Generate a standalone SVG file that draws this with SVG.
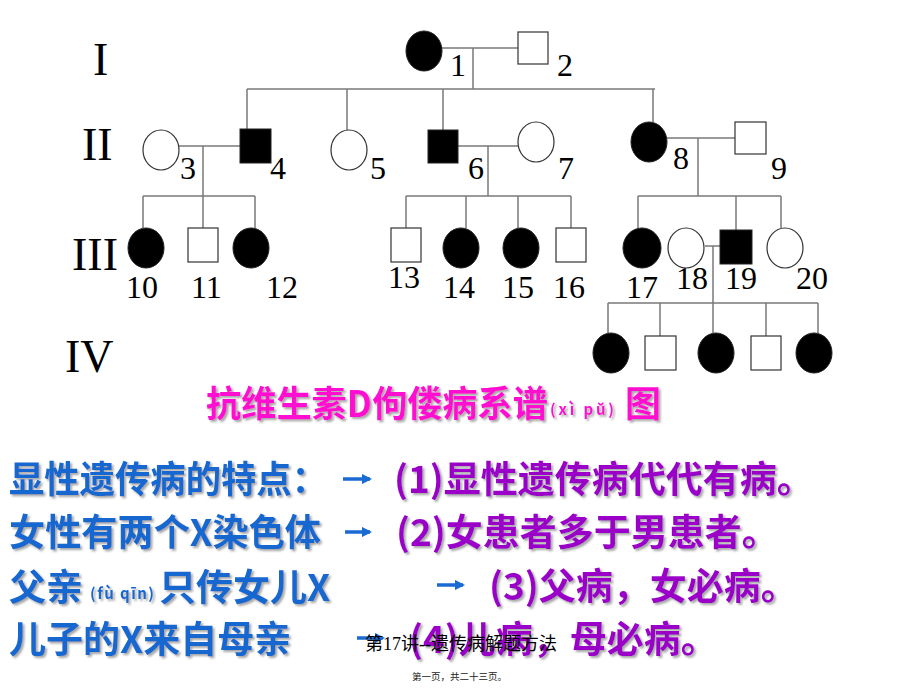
<svg xmlns="http://www.w3.org/2000/svg" width="920" height="690" viewBox="0 0 920 690">
<defs>
<style>
.ln{stroke:#7a7a7a;stroke-width:1.5;fill:none}
.f{fill:#000;stroke:#222;stroke-width:1}
.o{fill:#fff;stroke:#333;stroke-width:1.2}
.num{font-family:"Liberation Serif","Times New Roman",serif;font-size:32px;fill:#000}
.gen{font-family:"Liberation Serif","Times New Roman",serif;font-size:46px;fill:#000}
.cjk{font-family:"Noto Sans CJK SC","Liberation Sans",sans-serif;font-weight:700}
.blue{fill:#1268d0;font-size:37px}
.pur{fill:#9a06c8;font-size:37px}
.pink{fill:#ff10d0;font-size:36px}
.arr{stroke:#1a6ad4;stroke-width:3.5;fill:none}
</style>
<filter id="sh" x="-5%" y="-20%" width="110%" height="140%">
<feDropShadow dx="2" dy="2" stdDeviation="1" flood-color="#808080" flood-opacity="0.7"/>
</filter>
<marker id="ah" viewBox="0 0 10 10" refX="8" refY="5" markerWidth="3" markerHeight="3" orient="auto" markerUnits="strokeWidth">
<path d="M0,0 L10,5 L0,10 z" fill="#1a6ad4"/>
</marker>
</defs>
<rect width="920" height="690" fill="#fff"/>

<g id="connectors">
<path class="ln" d="M442,48 H518 M473,48 V89 M247,89 H655 M247,89 V129 M347,89 V130 M443,89 V130 M653,89 V122"/>
<path class="ln" d="M179,146 H240 M203,146 V196 M143,196 H255 M143,196 V228 M203,196 V228 M255,196 V228"/>
<path class="ln" d="M458,146 H518 M488,146 V196 M406,196 H571 M406,196 V228 M466,196 V228 M518,196 V228 M571,196 V228"/>
<path class="ln" d="M667,138 H735 M698,138 V196 M638,196 H781 M638,196 V228 M736,196 V230 M781,196 V228"/>
<path class="ln" d="M705,246 H720 M713,246 V333 M608,303 H818 M608,303 V333 M660,303 V336 M766,303 V336 M818,303 V333"/>
</g>

<g id="gen-labels">
<text class="gen" x="93" y="75">I</text>
<text class="gen" x="82" y="160">II</text>
<text class="gen" x="72" y="270">III</text>
<text class="gen" x="65" y="372">IV</text>
</g>

<g id="n1"><ellipse class="f" cx="424" cy="51" rx="18" ry="20"/><text class="num" x="450" y="76">1</text></g>
<g id="n2"><rect class="o" x="518" y="32" width="30" height="32"/><text class="num" x="557" y="76">2</text></g>
<g id="n3"><ellipse class="o" cx="161" cy="150" rx="18" ry="20"/><text class="num" x="180" y="179">3</text></g>
<g id="n4"><rect class="f" x="240" y="129" width="31" height="34"/><text class="num" x="270" y="179">4</text></g>
<g id="n5"><ellipse class="o" cx="349" cy="150" rx="18" ry="20"/><text class="num" x="370" y="179">5</text></g>
<g id="n6"><rect class="f" x="428" y="130" width="30" height="33"/><text class="num" x="468" y="179">6</text></g>
<g id="n7"><ellipse class="o" cx="536" cy="142" rx="18" ry="20"/><text class="num" x="558" y="179">7</text></g>
<g id="n8"><ellipse class="f" cx="649" cy="142" rx="18" ry="20"/><text class="num" x="673" y="169">8</text></g>
<g id="n9"><rect class="o" x="735" y="122" width="31" height="32"/><text class="num" x="771" y="179">9</text></g>
<g id="n10"><ellipse class="f" cx="146" cy="248" rx="18" ry="20"/><text class="num" x="126" y="298">10</text></g>
<g id="n11"><rect class="o" x="188" y="228" width="30" height="34"/><text class="num" x="191" y="298">11</text></g>
<g id="n12"><ellipse class="f" cx="251" cy="248" rx="18" ry="20"/><text class="num" x="266" y="298">12</text></g>
<g id="n13"><rect class="o" x="391" y="228" width="30" height="34"/><text class="num" x="388" y="288">13</text></g>
<g id="n14"><ellipse class="f" cx="461" cy="248" rx="18" ry="20"/><text class="num" x="443" y="298">14</text></g>
<g id="n15"><ellipse class="f" cx="521" cy="248" rx="18" ry="20"/><text class="num" x="502" y="298">15</text></g>
<g id="n16"><rect class="o" x="556" y="228" width="30" height="34"/><text class="num" x="553" y="298">16</text></g>
<g id="n17"><ellipse class="f" cx="642" cy="248" rx="19" ry="20"/><text class="num" x="626" y="298">17</text></g>
<g id="n18"><ellipse class="o" cx="686" cy="248" rx="18" ry="20"/><text class="num" x="676" y="289">18</text></g>
<g id="n19"><rect class="f" x="720" y="230" width="32" height="34"/><text class="num" x="725" y="289">19</text></g>
<g id="n20"><ellipse class="o" cx="785" cy="248" rx="18" ry="20"/><text class="num" x="796" y="289">20</text></g>
<g id="n21"><ellipse class="f" cx="611" cy="353" rx="18" ry="20"/></g>
<g id="n22"><rect class="o" x="645" y="336" width="31" height="34"/></g>
<g id="n23"><ellipse class="f" cx="716" cy="353" rx="18" ry="20"/></g>
<g id="n24"><rect class="o" x="751" y="336" width="30" height="34"/></g>
<g id="n25"><ellipse class="f" cx="814" cy="353" rx="18" ry="20"/></g>

<g id="title" class="cjk" filter="url(#sh)">
<text class="pink" x="206" y="417" textLength="342" lengthAdjust="spacingAndGlyphs">抗维生素D佝偻病系谱</text>
<text x="550" y="415" fill="#ff10d0" font-size="15" textLength="64" lengthAdjust="spacing">(xì pǔ)</text>
<text class="pink" x="625" y="417">图</text>
</g>

<g id="left-text" class="cjk" filter="url(#sh)">
<text class="blue" x="9" y="493" textLength="318" lengthAdjust="spacingAndGlyphs">显性遗传病的特点：</text>
<text class="blue" x="9" y="546" textLength="312" lengthAdjust="spacingAndGlyphs">女性有两个X染色体</text>
<text class="blue" x="9" y="601">父亲</text>
<text x="90" y="599" fill="#1268d0" font-size="15" textLength="64" lengthAdjust="spacing">(fù qīn)</text>
<text class="blue" x="159" y="601">只传女儿X</text>
<text class="blue" x="9" y="653">儿子的X来自母亲</text>
</g>

<g id="arrows">
<path class="arr" marker-end="url(#ah)" d="M343,479 H370"/>
<path class="arr" marker-end="url(#ah)" d="M345,532 H370"/>
<path class="arr" marker-end="url(#ah)" d="M437,585 H463"/>
<path class="arr" marker-end="url(#ah)" d="M357,638 H383"/>
</g>

<g id="right-text" class="cjk" filter="url(#sh)">
<text class="pur" x="394" y="493">(1)显性遗传病代代有病。</text>
<text class="pur" x="396" y="546">(2)女患者多于男患者。</text>
<text class="pur" x="489" y="600">(3)父病，女必病。</text>
<text class="pur" x="409" y="653">(4)儿病，母必病。</text>
</g>

<g id="footer">
<text x="365" y="650" font-family="'Liberation Serif','Noto Sans CJK SC',serif" font-size="18" fill="#000">第17讲--遗传病解题方法</text>
<text x="412" y="680" font-family="'Noto Sans CJK SC',sans-serif" font-size="9.5" fill="#222">第一页，共二十三页。</text>
</g>
</svg>
